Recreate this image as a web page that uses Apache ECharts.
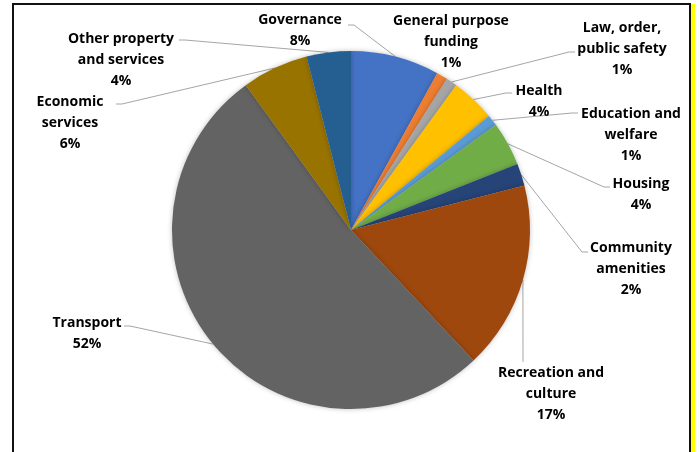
<!DOCTYPE html>
<html>
<head>
<meta charset="utf-8">
<script src="https://cdn.jsdelivr.net/npm/echarts@6/dist/echarts.min.js"></script>
<style>
  html, body { margin: 0; padding: 0; background: #fff; }
  #main { width: 700px; height: 452px; }
</style>
</head>
<body>
<div id="main"></div>
<script>
// categories (label text as wrapped in the chart) and shares in %
var categories = ['Governance', 'General purpose\nfunding', 'Law, order,\npublic safety', 'Health',
  'Education and\nwelfare', 'Housing', 'Community\namenities', 'Recreation and\nculture',
  'Transport', 'Economic\nservices', 'Other property\nand services'];
var shares = [8, 1, 1, 4, 1, 4, 2, 17, 52, 6, 4];
var colors = ['#4472C4', '#ED7D31', '#A5A5A5', '#FFC000', '#5B9BD5', '#70AD47',
  '#264478', '#9E480E', '#636363', '#997300', '#255E91'];

// label placement: [centerX, topY, lineEndX, lineEndY] (null = no leader line)
var labelPos = [
  [300, 10, 348, 25],
  [451, 11, null, null],
  [622, 18, 575, 52],
  [539, 81, 512, 93],
  [631, 104, 578, 113],
  [641, 174, 610, 187],
  [631, 238, 588, 252],
  [551, 363, 523, 362],
  [87, 313, 124, 326],
  [70, 92, 116, 104],
  [121, 29, 179, 40]
];

window.onload = function() {
  var ch = echarts.init(document.getElementById('main'));
  var data = [];
  for (var i = 0; i < categories.length; i++) {
    data.push({
      value: shares[i],
      name: categories[i],
      itemStyle: { color: colors[i] },
      labelLine: { show: labelPos[i][2] !== null }
    });
  }
  var op = {
    backgroundColor: '#fff',
    animation: false,
    graphic: [
      { type: 'rect', shape: { x: 12, y: 3, width: 2, height: 449 }, style: { fill: '#111' } },
      { type: 'rect', shape: { x: 12, y: 3, width: 679, height: 2 }, style: { fill: '#111' } },
      { type: 'rect', shape: { x: 689, y: 3, width: 2, height: 449 }, style: { fill: '#111' } },
      { type: 'rect', shape: { x: 691, y: 4, width: 4, height: 448 }, style: { fill: '#FFFF00' } }
    ],
    series: [{
      type: 'pie',
      center: [351, 230],
      radius: 179,
      startAngle: 90,
      clockwise: true,
      avoidLabelOverlap: false,
      itemStyle: {
        shadowBlur: 5,
        shadowColor: 'rgba(0,0,0,0.25)'
      },
      label: {
        show: true,
        formatter: '{b}\n{d}%',
        fontFamily: 'Open Sans',
        fontWeight: 'bold',
        fontSize: 14,
        lineHeight: 21,
        color: '#000',
        align: 'center'
      },
      labelLine: {
        show: true,
        lineStyle: { color: '#A6A6A6', width: 1 }
      },
      labelLayout: function(params) {
        var p = labelPos[params.dataIndex];
        var res = { x: p[0], y: p[1], align: 'center', verticalAlign: 'top' };
        if (p[2] !== null && params.labelLinePoints) {
          var s = params.labelLinePoints[0];
          var dir = p[2] < s[0] ? 1 : -1;
          if (Math.abs(p[2] - s[0]) < 3) dir = 0;
          res.labelLinePoints = [s, [p[2] + dir * 6, p[3] - (dir === 0 ? 2 : 0)], [p[2], p[3]]];
        }
        return res;
      },
      data: data
    }]
  };
  ch.setOption(op);
};
</script>
</body>
</html>
